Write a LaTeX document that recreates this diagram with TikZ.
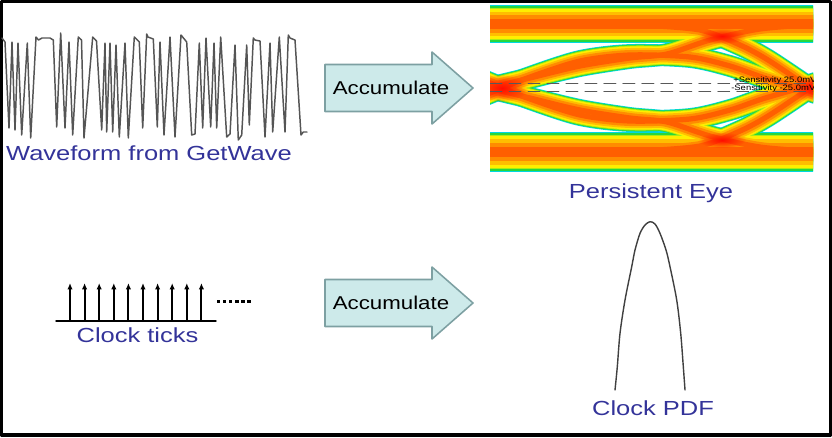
\documentclass[tikz,border=0pt]{standalone}
\usepackage{fontspec}
\setmainfont{Liberation Sans}
\newfontfamily\slidefont{Liberation Sans}[FakeStretch=1.25]
\newfontfamily\accfont{Liberation Sans}[FakeStretch=1.2]
\usetikzlibrary{arrows.meta,fadings}
\definecolor{labelblue}{RGB}{51,51,153}
\definecolor{arrowfill}{RGB}{205,234,234}
\definecolor{arrowline}{RGB}{125,160,162}
\definecolor{wavegray}{RGB}{85,85,85}
\definecolor{eyeA}{RGB}{0,215,225}
\definecolor{eyeB}{RGB}{40,215,60}
\definecolor{eyeC}{RGB}{170,235,20}
\definecolor{eyeD}{RGB}{255,238,0}
\definecolor{eyeE}{RGB}{255,190,0}
\definecolor{eyeF}{RGB}{255,140,0}
\definecolor{eyeG}{RGB}{255,95,0}
\tikzfading[name=spotfade, inner color=transparent!0, outer color=transparent!100]

\begin{document}
\begin{tikzpicture}[x=0.025cm,y=-0.025cm,line join=round,line cap=round,
	label/.style={text=labelblue,font=\slidefont\fontsize{14.5}{17}\selectfont,inner sep=0pt,anchor=base},
	acc/.style={draw=arrowline,fill=arrowfill,line width=1.1pt},
	acctext/.style={font=\accfont\fontsize{13.2}{15}\selectfont,inner sep=0pt},
	sens/.style={font=\accfont\fontsize{5.6}{6}\selectfont,inner sep=0pt,anchor=base west},
	tick/.style={line width=1.3pt,-{Latex[length=4.5pt,width=3.8pt]}}]
	\useasboundingbox (0,0) rectangle (832,437);
	\draw[line width=2.2pt] (1.5,1.5) rectangle (830.5,435);
	\draw[wavegray,line width=1.05pt] plot coordinates {(2,38) (5,42) (9,128) (12,42) (15,130) (18,43) (21.7,135) (27.3,43) (30.7,138) (36,37) (38.5,40) (42,38) (50,38) (53.3,40) (56.7,127) (60.7,33) (65,128) (69,42) (72.7,135) (78.3,37) (81.5,40) (84,138) (92.7,37) (96.5,41) (101.7,130) (105,43) (106.7,132) (110,43) (112.7,132) (116,45) (119.3,137) (125,43) (128.3,138) (134.3,37) (139.3,42) (142.7,128) (146.7,34) (148,37) (153.3,39) (157.3,127) (160,42) (164,135) (170,37) (175,137) (181,35) (186.7,42) (191.7,135) (195,134) (199.3,43) (202.7,128) (206,38) (210.7,127) (214,43) (216.7,128) (220.7,37) (226.7,137) (230,134) (235,45) (238.3,140) (241.7,135) (246.7,45) (249.3,125) (253.3,38) (255,40) (260,41) (265,137) (270,43) (272.7,132) (279.3,37) (285,132) (288.3,35) (290,38) (295,40) (301,135) (303.3,132) (307,132)};
	\node[label] (wave) at (149,160) {Waveform from GetWave};
	\begin{scope}
		\clip (490,4) rectangle (813,172);
		\foreach \c/\f in {eyeA/1,eyeB/.93,eyeC/.86,eyeD/.78,eyeE/.64,eyeF/.46,eyeG/.24}{
			\draw[\c,line width=\f*27pt] (480,24) -- (820,24);
			\draw[\c,line width=\f*28.5pt] (480,152) -- (820,152);
			\foreach \s in {1,-1}{
				\draw[\c,line width=\f*15.5pt] plot[smooth] coordinates {(480,88+2*\s) (530,88-10*\s) (580,88-22*\s) (630,88-30*\s) (667,88-34*\s) (710,88-48*\s) (760,88-59*\s) (820,88-64*\s)};
				\draw[\c,line width=\f*15.5pt] plot[smooth] coordinates {(483,88+8*\s) (500,88+1*\s) (530,88-11*\s) (580,88-27*\s) (630,88-33*\s) (690,88-31*\s) (730,88-22*\s) (762,88-11*\s) (800,88) (830,88+10*\s)};
				\draw[\c,line width=\f*15.5pt] plot[smooth] coordinates {(640,88-63*\s) (700,88-58*\s) (740,88-43*\s) (768,88-28*\s) (810,88) (830,88+13*\s)};
			}
		}
		\foreach \x/\y/\a/\b in {502/88/26/14,812/88/20/14,722/36/24/8,722/140/24/8}{
			\fill[red!90!orange,path fading=spotfade] (\x,\y) ellipse [x radius=\a,y radius=\b];
		}
		\draw[black!65,dash pattern=on 8.5pt off 5pt,line width=0.6pt] (490,83.5) -- (813,83.5) (490,91.8) -- (813,91.8);
		\node[sens] (senshi) at (733,82) {+Sensitivity 25.0mV};
		\node[sens] (senslo) at (731,90.5) {-Sensitivity -25.0mV};
	\end{scope}
	\node[label] (eye) at (651,198) {Persistent Eye};
	\foreach \n/\y in {top/88,bot/303}{
		\draw[acc] (325,\y-23.5) -- (432,\y-23.5) -- (432,\y-36) -- (473,\y) -- (432,\y+36) -- (432,\y+23.5) -- (325,\y+23.5) -- cycle;
		\node[acctext] (acc\n) at (391,\y) {Accumulate};
	}
	\draw[line width=1pt] (56,321) -- (216,321);
	\foreach \i in {0,...,9}{\draw[tick] (70+14.6*\i,321) -- (70+14.6*\i,283);}
	\draw[line width=2.2pt,line cap=butt,dash pattern=on 2.4pt off 1.9pt] (217,301.7) -- (253,301.7);
	\node[label] (ticks) at (137.5,342.7) {Clock ticks};
	\draw[black!75,line width=1pt] plot[smooth] coordinates {(615,390) (617.3,366.7) (620,333.3) (625,300) (631.7,266.7) (635,250) (640,233.3) (645,225) (650,221.7) (655,224) (660,233.3) (666,250) (670,266.7) (676.7,300) (680.7,333.3) (683.3,366.7) (685,390)};
	\node[label] (pdf) at (653,415) {Clock PDF};
\end{tikzpicture}
\end{document}
